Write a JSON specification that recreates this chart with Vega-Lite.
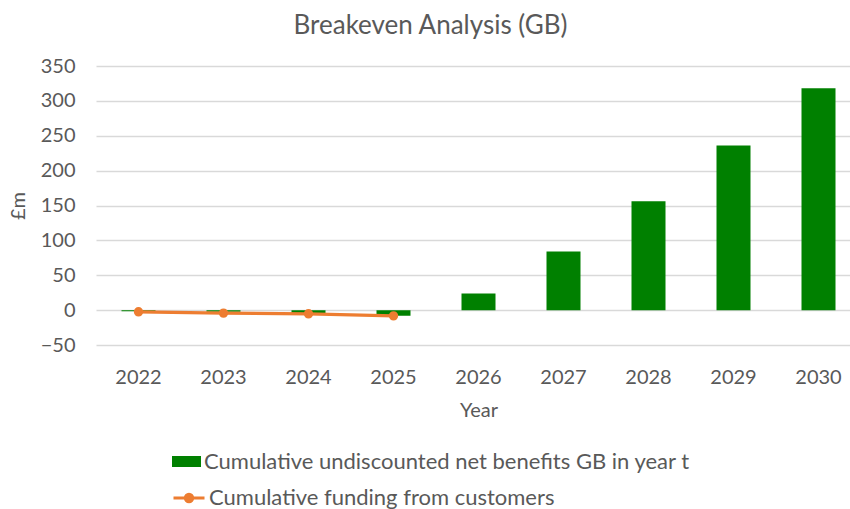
{
  "$schema": "https://vega.github.io/schema/vega-lite/v6.json",
  "autosize": {"type": "none"},
  "width": 765,
  "height": 279,
  "padding": {"left": 96, "top": 66, "right": 0, "bottom": 164},
  "background": "white",
  "title": {"text": "Breakeven Analysis (GB)", "fontSize": 26, "font": "Lato", "fontWeight": "normal", "color": "#595959", "offset": 17, "anchor": "middle", "dx": -48},
  "config": {
    "view": {"stroke": null},
    "font": "Lato",
    "axis": {"labelFont": "Lato", "titleFont": "Lato", "labelColor": "#595959", "titleColor": "#595959", "labelFontSize": 20, "titleFontSize": 20, "titleFontWeight": "normal"}
  },
  "datasets": {
    "bars": [
      {"year": "2022", "value": -1.5, "series": "Cumulative undiscounted net benefits GB in year t"},
      {"year": "2023", "value": -2.5, "series": "Cumulative undiscounted net benefits GB in year t"},
      {"year": "2024", "value": -4.5, "series": "Cumulative undiscounted net benefits GB in year t"},
      {"year": "2025", "value": -8, "series": "Cumulative undiscounted net benefits GB in year t"},
      {"year": "2026", "value": 24, "series": "Cumulative undiscounted net benefits GB in year t"},
      {"year": "2027", "value": 84, "series": "Cumulative undiscounted net benefits GB in year t"},
      {"year": "2028", "value": 156, "series": "Cumulative undiscounted net benefits GB in year t"},
      {"year": "2029", "value": 236, "series": "Cumulative undiscounted net benefits GB in year t"},
      {"year": "2030", "value": 318, "series": "Cumulative undiscounted net benefits GB in year t"}
    ],
    "line": [
      {"year": "2022", "value": -2.4, "series": "Cumulative funding from customers"},
      {"year": "2023", "value": -4.3, "series": "Cumulative funding from customers"},
      {"year": "2024", "value": -5.3, "series": "Cumulative funding from customers"},
      {"year": "2025", "value": -8.2, "series": "Cumulative funding from customers"}
    ]
  },
  "encoding": {
    "x": {"field": "year", "type": "ordinal", "title": "Year",
      "scale": {"domain": ["2022","2023","2024","2025","2026","2027","2028","2029","2030"], "paddingInner": 0.6, "paddingOuter": 0.3},
      "axis": {"labelAngle": 0, "domain": false, "ticks": false, "labelPadding": 22, "titlePadding": 13}},
    "y": {"field": "value", "type": "quantitative", "title": "£m",
      "scale": {"domain": [-50, 350], "nice": false, "zero": false},
      "axis": {"values": [-50,0,50,100,150,200,250,300,350], "domain": false, "ticks": false, "labelPadding": 21, "gridColor": "#D9D9D9", "gridWidth": 1.3, "titlePadding": 12}}
  },
  "layer": [
    {
      "data": {"name": "bars"},
      "mark": {"type": "bar"},
      "encoding": {
        "fill": {"field": "series", "type": "nominal",
          "scale": {"range": ["#008000"]},
          "legend": {"orient": "none", "legendX": 76, "legendY": 381, "title": null, "symbolType": "M-1,-0.38H1V0.38H-1Z", "symbolSize": 841, "labelFontSize": 22, "labelColor": "#595959", "labelFont": "Lato", "symbolStrokeWidth": 0, "labelLimit": 700, "labelOffset": 3}}
      }
    },
    {
      "data": {"name": "line"},
      "mark": {"type": "line", "strokeWidth": 3.2, "point": {"filled": true, "size": 55, "color": "#ED7D31"}},
      "encoding": {
        "stroke": {"field": "series", "type": "nominal",
          "scale": {"range": ["#ED7D31"]},
          "legend": {"orient": "none", "legendX": 76, "legendY": 415, "title": null, "symbolType": "M-1,0H1M0.24,0A0.24,0.24 0 1,1 -0.24,0A0.24,0.24 0 1,1 0.24,0", "symbolSize": 961, "symbolStrokeWidth": 3, "symbolFillColor": "#ED7D31", "labelFontSize": 22, "labelColor": "#595959", "labelFont": "Lato", "labelLimit": 700, "labelOffset": 3}}
      }
    }
  ],
  "resolve": {"scale": {"fill": "independent", "stroke": "independent"}, "legend": {"fill": "independent", "stroke": "independent"}}
}
